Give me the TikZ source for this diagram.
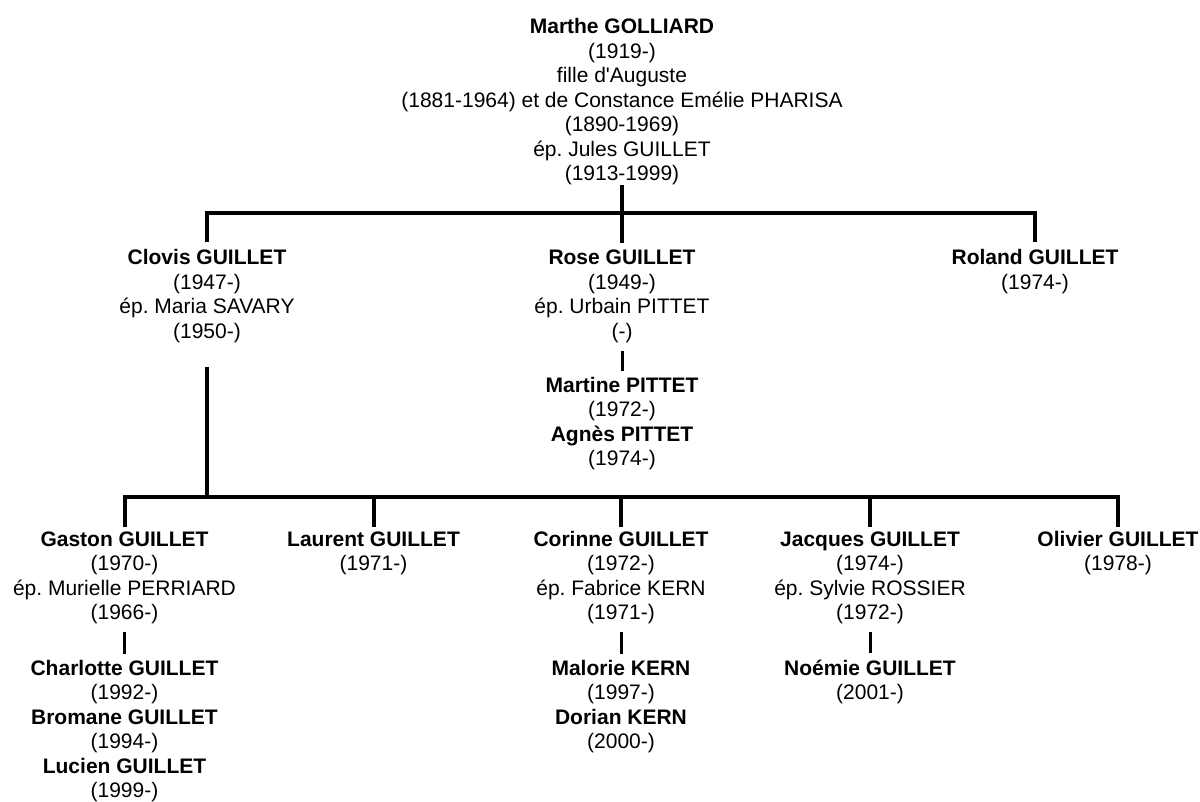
\documentclass[tikz,border=0pt]{standalone}
\usepackage{fontspec}
\setmainfont{Liberation Sans}
\frenchspacing
\usetikzlibrary{positioning}
\tikzset{
        % anchor=base is the baseline of the last line
        person/.style={align=center, inner sep=0pt, anchor=base, font=\fontsize{21}{24.5}\selectfont},
        % Lines between generations
        link_main/.style={draw=black, line width=4pt},
        % Lines from a couple down to their children
        link_kids/.style={draw=black, line width=3pt}
}
\begin{document}
\begin{tikzpicture}[x=1pt, y=-1pt]
            \useasboundingbox (0,0) rectangle (1200,801);
            % first generation
            \node[person] (marthe) at (622,180.5) {\textbf{Marthe GOLLIARD}\\(1919-)\\fille d\textquotesingle Auguste\\(1881-1964) et de Constance Emélie PHARISA\\(1890-1969)\\ép. Jules GUILLET\\(1913-1999)};
            % children
            \node[person] (clovis) at (207,338) {\textbf{Clovis GUILLET}\\(1947-)\\ép. Maria SAVARY\\(1950-)};
            \node[person] (rose) at (622,338) {\textbf{Rose GUILLET}\\(1949-)\\ép. Urbain PITTET\\(-)};
            \node[person] (roland) at (1035,289) {\textbf{Roland GUILLET}\\(1974-)};
            \node[person] (rosekids) at (622,465.5) {\textbf{Martine PITTET}\\(1972-)\\\textbf{Agnès PITTET}\\(1974-)};
            % grandchildren
            \node[person] (gaston) at (124.5,619.5) {\textbf{Gaston GUILLET}\\(1970-)\\ép. Murielle PERRIARD\\(1966-)};
            \node[person] (laurent) at (373.5,570.5) {\textbf{Laurent GUILLET}\\(1971-)};
            \node[person] (corinne) at (621,619.5) {\textbf{Corinne GUILLET}\\(1972-)\\ép. Fabrice KERN\\(1971-)};
            \node[person] (jacques) at (870,619.5) {\textbf{Jacques GUILLET}\\(1974-)\\ép. Sylvie ROSSIER\\(1972-)};
            \node[person] (olivier) at (1118,570.5) {\textbf{Olivier GUILLET}\\(1978-)};
            \node[person] (gastonkids) at (124.5,797.5) {\textbf{Charlotte GUILLET}\\(1992-)\\\textbf{Bromane GUILLET}\\(1994-)\\\textbf{Lucien GUILLET}\\(1999-)};
            \node[person] (corinnekids) at (621,748.5) {\textbf{Malorie KERN}\\(1997-)\\\textbf{Dorian KERN}\\(2000-)};
            \node[person] (jacqueskids) at (870,699.5) {\textbf{Noémie GUILLET}\\(2001-)};

            \coordinate (fork1) at (622,213);
            \coordinate (fork2) at (207,497);

            \draw[link_main] (marthe.south) -- (fork1);
            \draw[link_main] ([yshift=7pt]clovis.north) |- (fork1) -| ([yshift=7pt]roland.north);
            \draw[link_main] (fork1) -- ([yshift=7pt]rose.north);

            \draw[link_main] ([yshift=-24pt]clovis.south) -- (fork2);
            \draw[link_main] ([yshift=4pt]gaston.north) |- (fork2) -| ([yshift=4pt]olivier.north);
            \foreach \kid in {laurent, corinne, jacques}
                \draw[link_main] (\kid.north |- fork2) -- ([yshift=4pt]\kid.north);

            \foreach \couple/\kids in {rose/rosekids, gaston/gastonkids, corinne/corinnekids, jacques/jacqueskids}
                \draw[link_kids] ([yshift=-8pt]\couple.south) -- ([yshift=6pt]\kids.north);
        \end{tikzpicture}
\end{document}
